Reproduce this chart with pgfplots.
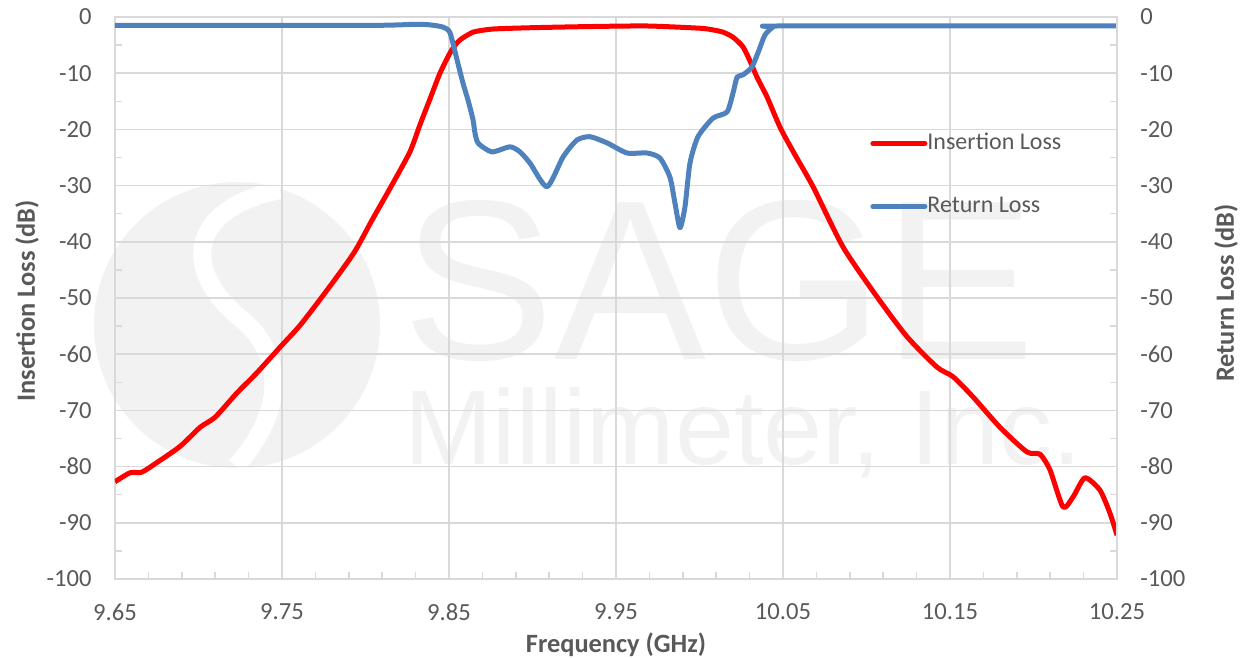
\documentclass[border=0pt]{standalone}
\usepackage{pgfplots}
\pgfplotsset{compat=1.18}
\usepackage{fontspec}
\setmainfont{Carlito}
\newfontfamily\wmfont{Liberation Sans}
\definecolor{gridc}{RGB}{217,217,217}
\definecolor{txt}{RGB}{89,89,89}
\definecolor{ilred}{RGB}{255,0,0}
\definecolor{rlblue}{RGB}{79,129,189}
\definecolor{wm}{RGB}{242,242,242}
\newcommand{\tfont}{\fontsize{12.3pt}{14pt}\selectfont}
\newcommand{\lfont}{\fontsize{13.2pt}{15pt}\selectfont}
\newcommand{\gfont}{\fontsize{12pt}{14pt}\selectfont}

\pgfplotstableread{
f dB
9.6500 -82.7
9.6590 -81.1
9.6660 -81.0
9.6750 -79.3
9.6890 -76.4
9.7010 -73.0
9.7100 -71.2
9.7230 -66.9
9.7350 -63.3
9.7490 -58.7
9.7610 -54.8
9.7770 -48.6
9.7930 -42.0
9.8040 -36.1
9.8160 -29.8
9.8266 -24.0
9.8326 -19.2
9.8386 -14.6
9.8446 -10.0
9.8506 -6.4
9.8548 -4.6
9.8584 -3.7
9.8644 -2.7
9.8716 -2.3
9.8787 -2.1
9.9003 -1.9
9.9344 -1.7
9.9686 -1.6
10.0003 -2.0
10.0081 -2.3
10.0141 -2.7
10.0201 -3.6
10.0260 -5.3
10.0302 -7.8
10.0344 -10.7
10.0404 -14.2
10.0482 -19.6
10.0560 -23.9
10.0680 -30.2
10.0859 -40.9
10.1063 -49.8
10.1243 -56.9
10.1422 -62.3
10.1518 -64.0
10.1638 -67.6
10.1799 -73.0
10.1961 -77.4
10.2039 -77.8
10.2099 -80.6
10.2177 -87.2
10.2237 -85.4
10.2308 -82.0
10.2398 -84.2
10.2458 -88.3
10.2500 -92.2
}\ILtable

\pgfplotstableread{
f dB
9.6500 -1.5
9.8000 -1.5
9.8300 -1.3
9.8386 -1.4
9.8464 -1.8
9.8506 -2.8
9.8548 -7.6
9.8584 -11.8
9.8614 -14.8
9.8644 -18.3
9.8656 -20.7
9.8676 -22.5
9.8757 -24.0
9.8865 -23.1
9.8925 -24.0
9.8985 -26.0
9.9087 -30.2
9.9183 -24.9
9.9266 -21.9
9.9344 -21.3
9.9446 -22.4
9.9566 -24.2
9.9686 -24.2
9.9763 -25.1
9.9823 -28.5
9.9853 -33.1
9.9883 -37.5
9.9913 -33.8
9.9943 -26.0
9.9991 -21.3
10.0081 -18.0
10.0165 -16.9
10.0201 -13.5
10.0225 -10.7
10.0260 -10.3
10.0314 -8.9
10.0355 -6.0
10.0392 -3.2
10.0440 -1.8
10.0490 -1.6
10.2500 -1.6
}\RLtable

\begin{document}
\begin{tikzpicture}
\useasboundingbox (0,0) rectangle (622pt,329pt);
% watermark
\fill[wm] (118.5pt,166.5pt) circle (71.5pt);
\draw[white, line width=9pt] (140pt,234pt) .. controls (95pt,225pt) and (90pt,195pt) .. (120pt,170pt) .. controls (145pt,150pt) and (140pt,120pt) .. (118pt,96pt);
\node[anchor=base west, inner sep=0pt, text=wm, font=\wmfont\fontsize{114pt}{114pt}\selectfont] at (201pt,149pt) {SAGE};
\node[anchor=base west, inner sep=0pt, text=wm, font=\wmfont\fontsize{53pt}{53pt}\selectfont] at (202pt,96.5pt) {Millimeter, Inc.};

\begin{axis}[
  at={(57.5pt,39.5pt)}, anchor=south west,
  scale only axis, width=501pt, height=281pt,
  xmin=9.65, xmax=10.25, ymin=-100, ymax=0,
  xtick={9.65,9.75,9.85,9.95,10.05,10.15,10.25},
  xticklabels={9.65,9.75,9.85,9.95,10.05,10.15,10.25},
  ytick={-100,-90,-80,-70,-60,-50,-40,-30,-20,-10,0},
  yticklabels={-100,-90,-80,-70,-60,-50,-40,-30,-20,-10,0},
  minor x tick num=4, minor y tick num=1,
  tick pos=left,
  major tick length=0pt, minor tick length=3.5pt,
  tick style={gridc, line width=0.75pt},
  grid=major, major grid style={gridc, line width=0.75pt},
  axis line style={gridc, line width=0.75pt},
  ticklabel style={font=\tfont, text=txt},
  xticklabel style={anchor=north, inner sep=0pt, yshift=-12pt},
  yticklabel style={anchor=east, inner sep=0pt, xshift=-11.5pt},
  xlabel={Frequency (GHz)},
  xlabel style={at={(axis description cs:0.5,0)}, anchor=north, inner sep=0pt, yshift=-27pt, font=\bfseries\lfont, text=txt},
  ylabel={Insertion Loss (dB)},
  ylabel style={at={(axis description cs:-0.0878,0.495)}, anchor=center, inner sep=0pt, font=\bfseries\lfont, text=txt},
  legend style={draw=none, fill=none, at={(axis description cs:0.7535,0.7189)}, anchor=west, inner sep=0pt, row sep=20.5pt, font=\gfont, text=txt, nodes={inner sep=0pt, text height=8.5pt, text depth=2.5pt}},
  legend cell align=left,
  legend image code/.code={\draw[#1, line cap=round] (1.25pt,0pt) -- (27.25pt,0pt);},
]
\addplot[ilred, line width=2.5pt, line join=round, smooth, tension=0.4] table[x=f, y=dB] {\ILtable};
\addlegendentry{Insertion Loss}
\addplot[rlblue, line width=2.5pt, line join=round, smooth, tension=0.4] table[x=f, y=dB] {\RLtable};
\addlegendentry{Return Loss}
\end{axis}

\begin{axis}[
  at={(57.5pt,39.5pt)}, anchor=south west,
  scale only axis, width=501pt, height=281pt,
  xmin=9.65, xmax=10.25, ymin=-100, ymax=0,
  axis x line=none, axis y line*=right,
  ytick={-100,-90,-80,-70,-60,-50,-40,-30,-20,-10,0},
  yticklabels={-100,-90,-80,-70,-60,-50,-40,-30,-20,-10,0},
  minor y tick num=1,
  major tick length=0pt, minor tick length=3.5pt,
  tick style={gridc, line width=0.75pt},
  axis line style={gridc, line width=0.75pt, -},
  yticklabel style={font=\tfont, text=txt, anchor=west, inner sep=0pt, xshift=11.5pt},
  ylabel={Return Loss (dB)},
  ylabel style={at={(axis description cs:1.1088,0.509)}, anchor=center, inner sep=0pt, font=\bfseries\lfont, text=txt},
]
\end{axis}
\end{tikzpicture}
\end{document}
